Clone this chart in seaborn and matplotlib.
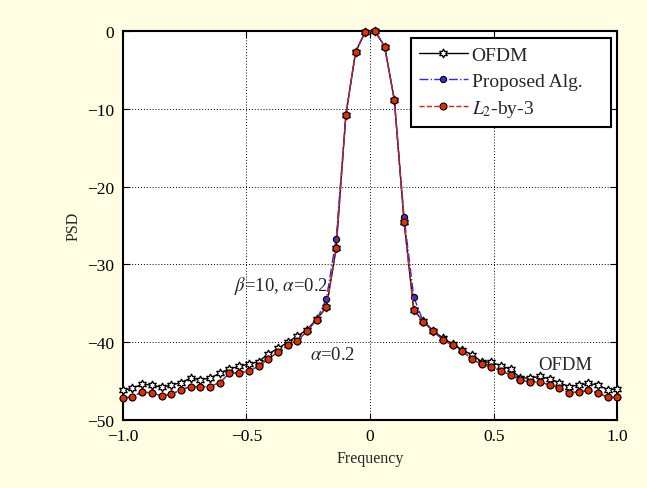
import numpy as np
import pandas as pd
import matplotlib
matplotlib.use("Agg")
import matplotlib.pyplot as plt
import seaborn as sns

freq = np.linspace(-1.0, 1.0, 52)

ofdm = [-46.2, -45.9, -45.4, -45.5, -45.8, -45.5, -45.2, -44.6, -44.8, -44.6,
        -44.0, -43.4, -43.1, -42.8, -42.5, -41.5, -40.8, -40.0, -39.2, -38.4,
        -37.0, -35.5, -27.9, -10.8, -2.7, -0.1, 0.0, -2.0, -8.9, -24.5,
        -35.9, -37.3, -38.5,
        -39.5, -40.2, -41.0, -41.6, -42.5, -42.6, -43.0, -43.5, -44.6, -44.6,
        -44.4, -44.7, -45.2, -45.7, -45.5, -45.3, -45.5, -46.1, -46.0]

proposed = [-47.2, -47.0, -46.4, -46.5, -46.9, -46.7, -46.1, -45.7, -45.7, -45.7,
            -45.2, -44.0, -43.9, -43.7, -43.1, -42.1, -41.3, -40.4, -39.8, -38.6,
            -37.1, -34.4, -26.7, -10.8, -2.7, -0.1, 0.0, -2.0, -8.9, -23.9,
            -34.2, -37.4, -38.6,
            -39.7, -40.4, -41.1, -42.2, -42.8, -43.2, -43.7, -44.2, -44.9, -45.1,
            -45.1, -45.5, -45.9, -46.5, -46.4, -46.2, -46.5, -47.1, -47.1]

l2by3 = [-47.2, -47.0, -46.4, -46.5, -46.9, -46.7, -46.1, -45.7, -45.7, -45.7,
         -45.2, -44.0, -43.9, -43.7, -43.1, -42.1, -41.3, -40.4, -39.8, -38.6,
         -37.1, -35.5, -27.9, -10.8, -2.7, -0.1, 0.0, -2.0, -8.9, -24.5,
         -35.9, -37.4, -38.6,
         -39.7, -40.4, -41.1, -42.2, -42.8, -43.2, -43.7, -44.2, -44.9, -45.1,
         -45.1, -45.5, -45.9, -46.5, -46.4, -46.2, -46.5, -47.1, -47.1]

xticks = [-1.0, -0.5, 0.0, 0.5, 1.0]
xticklabels = ["\u22121.0", "\u22120.5", "0", "0.5", "1.0"]
yticks = [-50, -40, -30, -20, -10, 0]
yticklabels = ["\u221250", "\u221240", "\u221230", "\u221220", "\u221210", "0"]

sns.set_style("white")
plt.rcParams["font.family"] = ["Liberation Serif", "DejaVu Serif"]
plt.rcParams["mathtext.fontset"] = "stix"

bg = "#FFFDE2"
fig = plt.figure(figsize=(6.47, 4.89), dpi=100, facecolor=bg)
ax = fig.add_axes([0.1897, 0.139, 0.7647, 0.7956])
ax.set_facecolor("white")

df = pd.DataFrame({"f": freq, "ofdm": ofdm, "prop": proposed, "l2": l2by3})

sns.lineplot(data=df, x="f", y="ofdm", ax=ax, color="black", linewidth=1.0,
             marker=(6, 1, 0), markersize=6.5, markerfacecolor="white",
             markeredgecolor="black", markeredgewidth=0.9, label="OFDM",
             clip_on=False, zorder=3)
sns.lineplot(data=df, x="f", y="prop", ax=ax, color="#2b2bff", linewidth=1.0,
             linestyle="-.", marker="o", markersize=4.5, markerfacecolor="#3030e0",
             markeredgecolor="black", markeredgewidth=0.8, label="Proposed Alg.",
             clip_on=False, zorder=4)
sns.lineplot(data=df, x="f", y="l2", ax=ax, color="#e02000", linewidth=1.0,
             linestyle="--", marker="o", markersize=5, markerfacecolor="#e03000",
             markeredgecolor="black", markeredgewidth=0.8, label="$L_2$-by-3",
             clip_on=False, zorder=5)

ax.set_xlim(-1, 1)
ax.set_ylim(-50, 0)
ax.set_xticks(xticks)
ax.set_xticklabels(xticklabels, fontsize=12.5)
ax.set_yticks(yticks)
ax.set_yticklabels(yticklabels, fontsize=12.5)
ax.tick_params(direction="in", length=5, width=0.8, top=True, right=True,
               bottom=True, left=True, colors="black", pad=6)
ax.grid(True, color="black", linestyle=(0, (1, 2)), linewidth=0.7)
for s in ax.spines.values():
    s.set_color("black")
    s.set_linewidth(1.5)

ax.set_xlabel("Frequency", fontsize=11.5, labelpad=4)
ax.set_ylabel("PSD", fontsize=11.5, labelpad=4)

ax.text(-0.36, -32.6, r"$\beta$=10, $\alpha$=0.2", fontsize=13.5, ha="center", va="center")
ax.text(-0.15, -41.6, r"$\alpha$=0.2", fontsize=13.5, ha="center", va="center")
ax.text(0.79, -42.9, "OFDM", fontsize=13.5, ha="center", va="center")

leg = ax.legend(loc="upper left",
                bbox_to_anchor=(411 / 647, 1 - 120 / 489, 200 / 647, 81 / 489),
                bbox_transform=fig.transFigure, mode="expand",
                frameon=True, fancybox=False,
                edgecolor="black", framealpha=1, fontsize=14, handlelength=2.5,
                borderaxespad=0, borderpad=0.42, labelspacing=0.42,
                handletextpad=0.2)
leg.get_frame().set_linewidth(1.5)

fig.savefig("out.png", dpi=100, facecolor=bg)
